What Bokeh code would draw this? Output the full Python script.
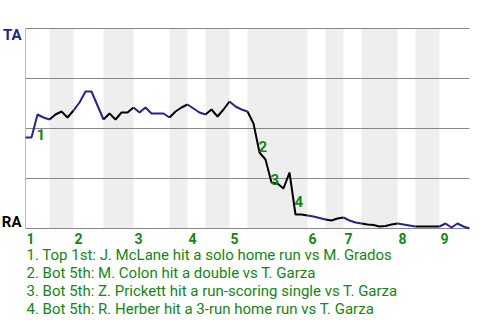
from bokeh.plotting import figure
from bokeh.models import Range1d
from bokeh.embed import file_html
from bokeh.resources import INLINE
from bokeh.core.properties import value

# ---- data ----
team_top = "TA"
team_bottom = "RA"
pa_per_half = [4, 4, 5, 5, 6, 3, 3, 4, 3, 10, 3, 3, 3, 6, 3, 4, 5]
win_prob_ta = [0.455,
               0.455, 0.57, 0.555, 0.545,
               0.57, 0.585, 0.555, 0.59,
               0.63, 0.685, 0.685, 0.615, 0.545,
               0.575, 0.545, 0.58, 0.58, 0.605,
               0.58, 0.605, 0.575, 0.575, 0.575, 0.555,
               0.585, 0.605, 0.62,
               0.60, 0.58, 0.57,
               0.595, 0.56, 0.595, 0.635,
               0.61, 0.595, 0.585,
               0.525, 0.38, 0.345, 0.23, 0.225, 0.20, 0.28, 0.07, 0.07, 0.065,
               0.06, 0.0525, 0.045,
               0.04, 0.05, 0.055,
               0.04, 0.03, 0.025,
               0.02, 0.0175, 0.01, 0.0125, 0.02, 0.025,
               0.02, 0.015, 0.01,
               0.01, 0.01, 0.01, 0.01,
               0.025, 0.005, 0.025, 0.01, 0.0]
inning_labels = ["1", "2", "3", "4", "5", "6", "7", "8", "9"]
event_pa = [2, 39, 41, 45]
event_labels = ["1", "2", "3", "4"]
event_texts = [
    "1. Top 1st: J. McLane hit a solo home run vs M. Grados",
    "2. Bot 5th: M. Colon hit a double vs T. Garza",
    "3. Bot 5th: Z. Prickett hit a run-scoring single vs T. Garza",
    "4. Bot 5th: R. Herber hit a 3-run home run vs T. Garza",
]
grid_levels = [0.0, 0.25, 0.5, 0.75, 1.0]

# ---- layout constants ----
W, H = 480, 320
LEFT_PX, STEP_PX = 25, 6          # x pixel of PA 0 and pixel per PA
TOP_PX, SPAN_PX = 28, 200         # y pixel of prob 1 and pixels per unit
PX = 1.0 / STEP_PX                 # one pixel in x data units
PY = 1.0 / SPAN_PX                 # one pixel in y data units

BLUE = "#22229a"
BLACK = "#000000"
GREEN = "#118811"
FONT = value("Roboto")

n_pa = sum(pa_per_half)
x0 = -LEFT_PX * PX
x1 = (W - LEFT_PX) * PX
y1 = 1 + TOP_PX * PY
y0 = 1 - (H - TOP_PX) * PY

p = figure(width=W, height=H, x_range=Range1d(x0, x1), y_range=Range1d(y0, y1),
           x_axis_location=None, y_axis_location=None,
           toolbar_location=None, output_backend="svg", min_border=0)
p.grid.visible = False
p.outline_line_color = None
p.background_fill_color = "white"

# half-inning boundaries
bounds = [0]
for n in pa_per_half:
    bounds.append(bounds[-1] + n)

# shaded bottom halves
lefts = [bounds[h] for h in range(len(pa_per_half)) if h % 2 == 1]
rights = [bounds[h + 1] for h in range(len(pa_per_half)) if h % 2 == 1]
p.quad(left=lefts, right=rights, bottom=0, top=1, fill_color="#eeeeee", line_color=None)

# grid lines
p.segment(x0=[0] * len(grid_levels), x1=[n_pa] * len(grid_levels),
          y0=grid_levels, y1=grid_levels, line_color="#888888", line_width=1)
p.segment(x0=[0], x1=[0], y0=[0], y1=[1], line_color="#bbbbbb", line_width=1)

# win probability line, coloured per half inning
for h in range(len(pa_per_half)):
    xs = list(range(bounds[h], bounds[h + 1] + 1))
    ys = win_prob_ta[bounds[h]:bounds[h + 1] + 1]
    p.line(xs, ys, line_color=BLUE if h % 2 == 0 else BLACK, line_width=2)

# team labels
p.text(x=[-4 * PX], y=[1 - 6.5 * PY], text=[team_top], text_align="right",
       text_baseline="middle", text_font=FONT, text_font_style="bold",
       text_font_size="15px", text_color=BLUE)
p.text(x=[-4 * PX], y=[0 + 7 * PY], text=[team_bottom], text_align="right",
       text_baseline="middle", text_font=FONT, text_font_style="bold",
       text_font_size="15px", text_color=BLACK)

# inning labels
inn_x = [bounds[h] + 1 * PX for h in range(0, len(pa_per_half), 2)]
p.text(x=inn_x, y=[-10 * PY] * len(inn_x), text=inning_labels[:len(inn_x)],
       text_align="left", text_baseline="middle", text_font=FONT,
       text_font_style="bold", text_font_size="14px", text_color=GREEN)

# event markers
ev_x = [e - 1 * PX for e in event_pa]
ev_y = [(win_prob_ta[e - 1] + win_prob_ta[e]) / 2 - 8 * PY for e in event_pa]
p.text(x=ev_x, y=ev_y, text=event_labels, text_align="left", text_baseline="middle",
       text_font=FONT, text_font_style="bold", text_font_size="15px", text_color=GREEN)

# event descriptions
desc_y = [-(26 + 18 * k) * PY for k in range(len(event_texts))]
p.text(x=[1 * PX] * len(event_texts), y=desc_y, text=event_texts, text_align="left",
       text_baseline="middle", text_font=FONT, text_font_size="15px", text_color=GREEN)

open("out.html", "w").write(file_html(p, INLINE))
